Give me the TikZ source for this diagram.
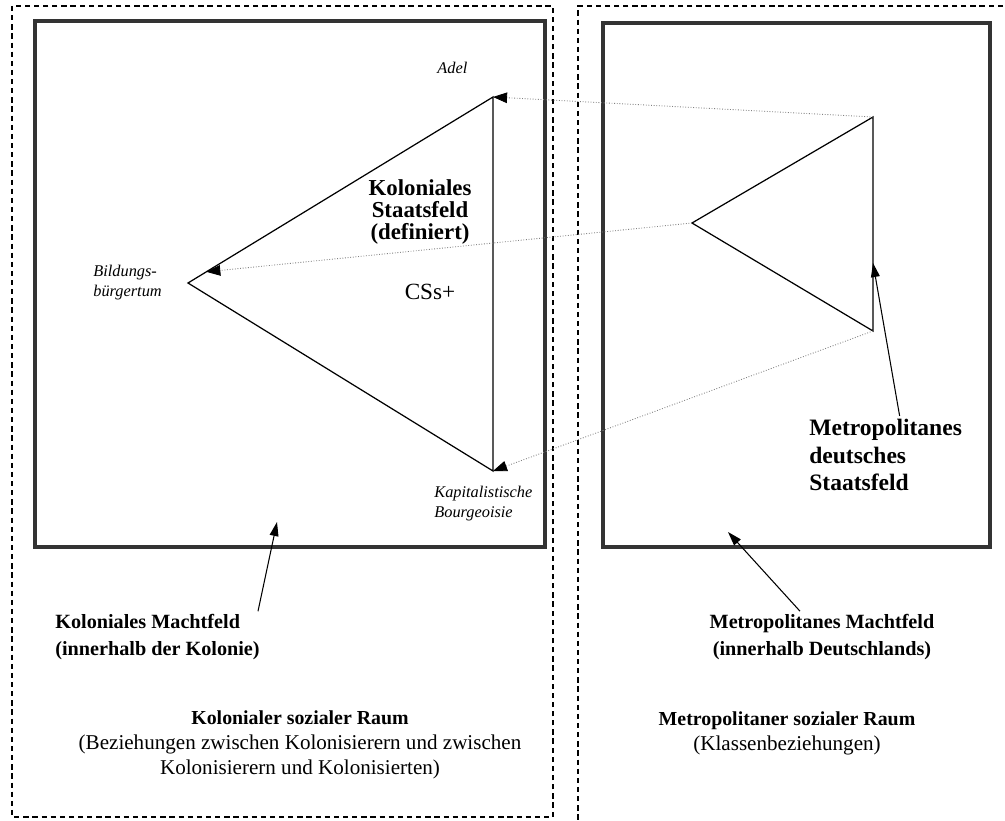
\documentclass[tikz,border=0pt]{standalone}
\usepackage{fontspec}
\setmainfont{Liberation Serif}
\usetikzlibrary{arrows.meta,calc}
\tikzset{
    power field/.style={line width=2.3pt, black!80},
    social space/.style={line width=0.6pt, dash pattern=on 3pt off 2.2pt},
    state field/.style={line width=0.7pt},
    transfer/.style={line width=0.5pt, gray, densely dotted,
        -{Triangle[length=8pt, width=6pt, color=black]}},
    pointer/.style={line width=0.6pt, -{Triangle[length=8pt, width=5pt]}},
    pole label/.style={font=\fontsize{9.3}{11.5}\selectfont\itshape, align=left, inner sep=0pt},
    field label/.style={font=\fontsize{11.5}{15}\selectfont\bfseries, inner sep=0pt},
    space label/.style={font=\fontsize{12}{14.2}\selectfont, align=center, inner sep=0pt}
}

\begin{document}
\begin{tikzpicture}[x=0.02cm, y=-0.02cm]
    \useasboundingbox (0,0) rectangle (1005,821);

    % colonial state field
    \coordinate (A1) at (493, 97);
    \coordinate (B1) at (188, 283);
    \coordinate (K1) at (493, 471);
    % metropolitan state field
    \coordinate (A2) at (873, 117);
    \coordinate (B2) at (692, 223);
    \coordinate (K2) at (873, 331);

    % social spaces and fields of power
    \draw[social space] (12,6) rectangle (553,817);
    \draw[social space] (1003,6) -- (578,6) -- (578,821);
    \draw[power field] (35,21) rectangle (545,547);
    \draw[power field] (603,23) rectangle (990,547);

    \draw[state field] (A1) -- (B1) -- (K1) -- cycle;
    \draw[state field] (A2) -- (B2) -- (K2) -- cycle;

    \draw[transfer] (A2) -- (A1);
    \draw[transfer] (B2) -- ($(B1)!0.06!(A1)$);
    \draw[transfer] (K2) -- (K1);

    % poles
    \node[pole label, anchor=base west] (adel) at (437,74) {Adel};
    \node[pole label, anchor=north west] (bildung) at (93,265) {Bildungs-\\bürgertum};
    \node[pole label, anchor=north west] (bourgeoisie) at (434,486) {Kapitalistische\\Bourgeoisie};

    % state fields
    \node[field label, font=\fontsize{13}{12.6}\selectfont\bfseries, align=center] (staat1) at (420,212) {Koloniales\\Staatsfeld\\(definiert)};
    \node[font=\fontsize{13.2}{15}\selectfont, inner sep=0pt] (css) at (430,292) {CSs+};
    \node[field label, font=\fontsize{13.4}{15.6}\selectfont\bfseries, align=left, anchor=west] (staat2) at (809,455) {Metropolitanes\\deutsches\\Staatsfeld};
    \coordinate (S2tip) at (873,263);
    \draw[pointer] ($(staat2.north)+(14,-3)$) -- (S2tip);

    % fields of power
    \node[field label, align=left, anchor=west] (macht1) at (55,637) {Koloniales Machtfeld\\(innerhalb der Kolonie)};
    \node[field label, align=center] (macht2) at (822,637) {Metropolitanes Machtfeld\\(innerhalb Deutschlands)};
    \coordinate (M1tip) at (277,522);
    \coordinate (M2tip) at (728,532);
    \draw[pointer] ($(macht1.north east)+(-2,-3)$) -- (M1tip);
    \draw[pointer] ($(macht2.north)+(-22,-3)$) -- (M2tip);

    % social spaces
    \node[space label] (raum1) at (300,745) {{\fontsize{11.3}{14.2}\selectfont\bfseries Kolonialer sozialer Raum}\\(Beziehungen zwischen Kolonisierern und zwischen\\Kolonisierern und Kolonisierten)};
    \node[space label] (raum2) at (787,733) {{\fontsize{11.3}{14.2}\selectfont\bfseries Metropolitaner sozialer Raum}\\(Klassenbeziehungen)};
\end{tikzpicture}
\end{document}
